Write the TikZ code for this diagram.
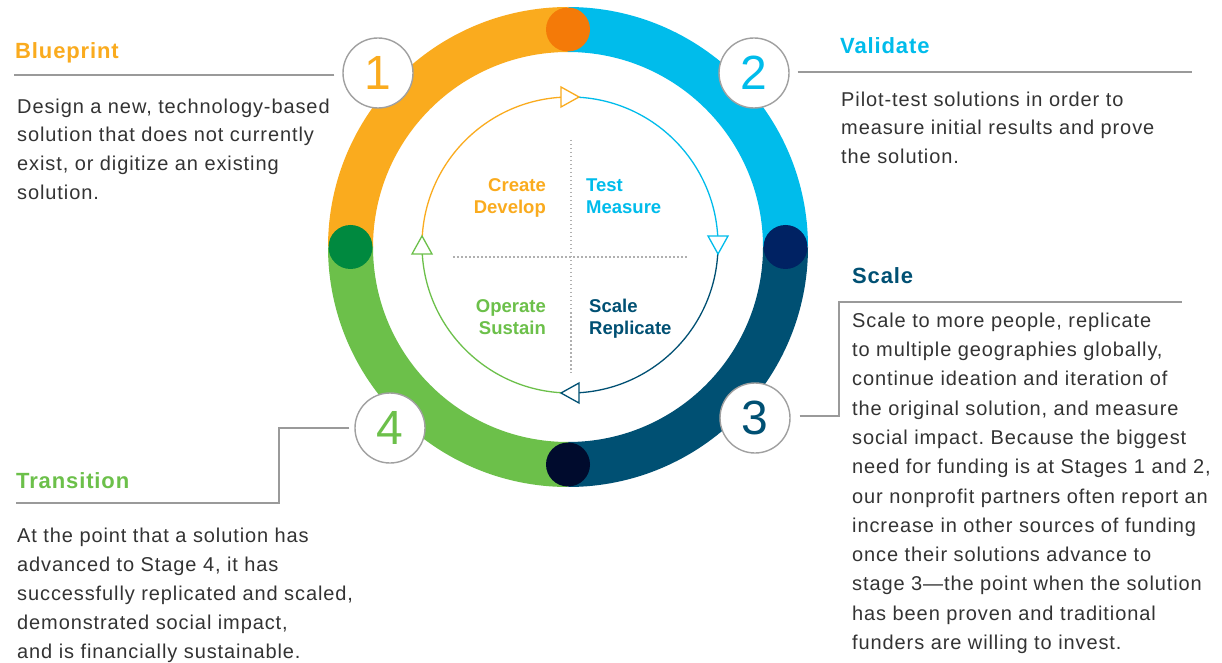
\documentclass[tikz,border=0pt]{standalone}
\usepackage{fontspec}
\setmainfont{Liberation Sans}
\newfontfamily\bodyfont{Liberation Sans}[LetterSpace=4.5]
\newfontfamily\headfont{Liberation Sans}[LetterSpace=4]
\frenchspacing
\definecolor{corange}{HTML}{FAAB1E}
\definecolor{cblue}{HTML}{00BCEB}
\definecolor{cteal}{HTML}{005073}
\definecolor{cgreen}{HTML}{6CC04A}
\definecolor{dotorange}{HTML}{F47A08}
\definecolor{dotnavy}{HTML}{002263}
\definecolor{dotdark}{HTML}{000B2D}
\definecolor{dotgreen}{HTML}{00893F}
\definecolor{textgray}{HTML}{333333}
\definecolor{conngray}{HTML}{9A9A9A}
\definecolor{ringgray}{HTML}{A0A0A0}
\definecolor{dotgray}{HTML}{B0B0B0}
\newcommand\opentri[3]{\begin{scope}[shift={#1},rotate=#2]\draw[#3,fill=white,line width=1.3pt,line join=miter] (-9,10) -- (9,0) -- (-9,-10) -- cycle;\end{scope}}
\tikzset{
  numcirc/.style={circle, draw=ringgray, line width=1.4pt, fill=white, minimum size=70pt, inner sep=0pt, font=\fontsize{48}{48}\selectfont},
  head/.style={anchor=base west, inner sep=0pt, font=\headfont\bfseries\fontsize{22}{26}\selectfont},
  body/.style={anchor=north west, inner sep=0pt, align=left, text=textgray, font=\bodyfont\fontsize{20}{28.7}\selectfont},
  conn/.style={draw=conngray, line width=1.3pt},
  inlab/.style={inner sep=0pt, font=\bfseries\fontsize{18.5}{22}\selectfont},
  ringseg/.style={line width=45pt},
  innerarc/.style={line width=1.3pt},
  gridline/.style={draw=dotgray, line width=1.5pt, dash pattern=on 1.5pt off 2.5pt}
}
\begin{document}
\begin{tikzpicture}[x=1pt,y=1pt]
\useasboundingbox (0,0) rectangle (1222,662);
\fill[white] (0,0) rectangle (1222,662);
\coordinate (rc) at (568,415);
\coordinate (ic) at (570,417);
% outer ring
\draw[ringseg, corange] (rc) ++(90:217.5) arc[start angle=90, end angle=180, radius=217.5];
\draw[ringseg, cblue] (rc) ++(0:217.5) arc[start angle=0, end angle=90, radius=217.5];
\draw[ringseg, cteal] (rc) ++(-90:217.5) arc[start angle=-90, end angle=0, radius=217.5];
\draw[ringseg, cgreen] (rc) ++(180:217.5) arc[start angle=180, end angle=270, radius=217.5];
\fill[dotorange] (rc) ++(90:217.5) circle[radius=22];
\fill[dotnavy] (rc) ++(0:217.5) circle[radius=22];
\fill[dotdark] (rc) ++(-90:217.5) circle[radius=22];
\fill[dotgreen] (rc) ++(180:217.5) circle[radius=22];
% inner cycle
\draw[innerarc, corange] (ic) ++(180:148) arc[start angle=180, end angle=90, radius=148];
\draw[innerarc, cblue] (ic) ++(90:148) arc[start angle=90, end angle=0, radius=148];
\draw[innerarc, cteal] (ic) ++(0:148) arc[start angle=0, end angle=-90, radius=148];
\draw[innerarc, cgreen] (ic) ++(-90:148) arc[start angle=-90, end angle=-180, radius=148];
\opentri{(570,565)}{0}{corange}
\opentri{(718,417)}{-90}{cblue}
\opentri{(570,269)}{180}{cteal}
\opentri{(422,417)}{90}{cgreen}
% dotted cross
\draw[gridline] (571,522) -- (571,289);
\draw[gridline] (453,405) -- (688,405);
% inner labels
\node[inlab, anchor=north east, align=right, text=corange] (lcreate) at (546,483.3) {Create\\Develop};
\node[inlab, anchor=north west, align=left, text=cblue] (ltest) at (586,483.3) {Test\\Measure};
\node[inlab, anchor=north east, align=right, text=cgreen] (loperate) at (546,363) {Operate\\Sustain};
\node[inlab, anchor=north west, align=left, text=cteal] (lscale) at (589,363) {Scale\\Replicate};
% number circles
\node[numcirc, text=corange] (n1) at (378,589) {1};
\node[numcirc, text=cblue] (n2) at (754,589) {2};
\node[numcirc, text=cteal] (n3) at (755,244) {3};
\node[numcirc, text=cgreen] (n4) at (390,234) {4};
% Blueprint
\node[head, text=corange] (hblue) at (15,603) {Blueprint};
\coordinate (bpend) at (14,587);
\draw[conn] ([xshift=-8pt,yshift=-2pt]n1.west) -- (bpend);
\node[body] (tblue) at (17,563.4) {Design a new, technology-based\\solution that does not currently\\exist, or digitize an existing\\solution.};
% Validate
\node[head, text=cblue] (hval) at (840,608) {Validate};
\coordinate (vaend) at (1192,590);
\draw[conn] ([xshift=8pt,yshift=1pt]n2.east) -- (vaend);
\node[body] (tval) at (841,570.4) {Pilot-test solutions in order to\\measure initial results and prove\\the solution.};
% Scale
\node[head, text=cteal] (hscale) at (852,378) {Scale};
\coordinate (scA) at (839,246);
\coordinate (scB) at (839,360);
\coordinate (scC) at (1182,360);
\draw[conn] ([xshift=9pt,yshift=2pt]n3.east) -- (scA) -- (scB) -- (scC);
\node[body, font=\bodyfont\fontsize{20}{29.3}\selectfont] (tscale) at (852,349.4) {Scale to more people, replicate\\to multiple geographies globally,\\continue ideation and iteration of\\the original solution, and measure\\social impact. Because the biggest\\need for funding is at Stages 1 and 2,\\our nonprofit partners often report an\\increase in other sources of funding\\once their solutions advance to\\stage 3—the point when the solution\\has been proven and traditional\\funders are willing to invest.};
% Transition
\node[head, text=cgreen] (htrans) at (16,174) {Transition};
\coordinate (trA) at (279,234);
\coordinate (trB) at (279,159);
\coordinate (trC) at (16,159);
\draw[conn] ([xshift=-5pt]n4.west) -- (trA) -- (trB) -- (trC);
\node[body, font=\bodyfont\fontsize{20}{29}\selectfont] (ttrans) at (17,134.4) {At the point that a solution has\\advanced to Stage 4, it has\\successfully replicated and scaled,\\demonstrated social impact,\\and is financially sustainable.};
\end{tikzpicture}
\end{document}
